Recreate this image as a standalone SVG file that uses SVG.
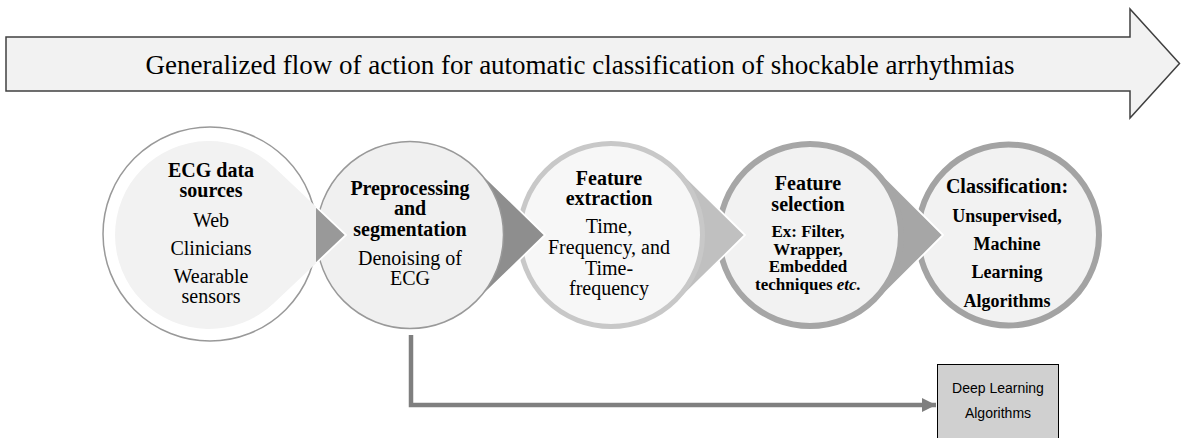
<svg xmlns="http://www.w3.org/2000/svg" width="1181" height="438" viewBox="0 0 1181 438">
<defs>
<style>
.t{font-family:"Liberation Serif","Times New Roman",serif;fill:#000;text-anchor:middle}
.b{font-weight:bold}
.s20{font-size:20px}
.s18{font-size:18px}
.s17{font-size:17px}
.ptr{stroke:#fff;stroke-width:1.8;stroke-linejoin:miter}
.sans{font-family:"Liberation Sans",Arial,sans-serif;font-size:14px;fill:#000;text-anchor:middle}
</style>
<marker id="ah" viewBox="0 0 10 10" refX="10" refY="5" markerWidth="3.2" markerHeight="3.2" orient="auto" markerUnits="strokeWidth">
<path d="M0,0 L10,5 L0,10 Z" fill="#7f7f7f"/>
</marker>
</defs>
<rect width="1181" height="438" fill="#fff"/>
<g id="title">
<polygon points="6,37 1130,37 1130,9 1179.5,63.5 1130,118 1130,91 6,91" fill="#f2f2f2" stroke="#404040" stroke-width="1.5"/>
<text class="t" x="580" y="74" font-size="27">Generalized flow of action for automatic classification of shockable arrhythmias</text>
</g>
<g id="node5">
<circle cx="1008.5" cy="235" r="90.5" fill="#f2f2f2" stroke="#a3a3a3" stroke-width="6"/>
<text class="t b s20" x="1007" y="193">Classification:</text>
<text class="t b s18" x="1007" y="222">Unsupervised,</text>
<text class="t b s18" x="1007" y="250">Machine</text>
<text class="t b s18" x="1007" y="278">Learning</text>
<text class="t b s18" x="1007" y="307">Algorithms</text>
</g>
<g id="node4">
<path class="ptr" d="M876.44,168.5 L943,235 L876.44,301.5 A94,94 0 1 1 876.44,168.5 Z" fill="#a6a6a6"/>
<circle cx="810" cy="235" r="91" fill="#f2f2f2" stroke="#a6a6a6" stroke-width="6"/>
<text class="t b s20" x="808" y="190">Feature</text>
<text class="t b s20" x="808" y="211">selection</text>
<text class="t b s17" x="808" y="237">Ex: Filter,</text>
<text class="t b s17" x="808" y="254.5">Wrapper,</text>
<text class="t b s17" x="808" y="272">Embedded</text>
<text class="t b s17" x="808" y="289.5">techniques <tspan font-style="italic">etc.</tspan></text>
</g>
<g id="node3">
<path class="ptr" d="M676.94,168 L745,235 L676.94,302 A94,94 0 1 1 676.94,168 Z" fill="#c0c0c0"/>
<circle cx="611" cy="235" r="91.5" fill="#f7f7f7" stroke="#c8c8c8" stroke-width="5"/>
<text class="t b s20" x="609" y="185">Feature</text>
<text class="t b s20" x="609" y="205">extraction</text>
<text class="t s20" x="609" y="233">Time,</text>
<text class="t s20" x="609" y="254">Frequency, and</text>
<text class="t s20" x="609" y="275">Time-</text>
<text class="t s20" x="609" y="295">frequency</text>
</g>
<g id="node2">
<path class="ptr" d="M475.45,167.53 L545,235 L475.45,302.47 A94,94 0 1 1 475.45,167.53 Z" fill="#8e8e8e"/>
<circle cx="410" cy="235" r="93.5" fill="#f0f0f0" stroke="#999" stroke-width="1.5"/>
<text class="t b s20" x="410" y="195">Preprocessing</text>
<text class="t b s20" x="410" y="215">and</text>
<text class="t b s20" x="410" y="236">segmentation</text>
<text class="t s20" x="410" y="265">Denoising of</text>
<text class="t s20" x="410" y="285">ECG</text>
</g>
<g id="node1">
<circle cx="210" cy="234" r="107" fill="#fff" stroke="#999" stroke-width="1.5"/>
<path d="M273.5,166.6 L346,235 L273.5,303.4 A94,94 0 1 1 273.5,166.6 Z" fill="#f2f2f2"/>
<polygon points="316,206.7 346,235 316,263.3" fill="#999"/>
<polyline points="316,206.7 346,235 316,263.3" fill="none" stroke="#fff" stroke-width="1.8"/>
<text class="t b s20" x="211" y="177">ECG data</text>
<text class="t b s20" x="211" y="197">sources</text>
<text class="t s20" x="211" y="227">Web</text>
<text class="t s20" x="211" y="255">Clinicians</text>
<text class="t s20" x="211" y="283">Wearable</text>
<text class="t s20" x="211" y="303">sensors</text>
</g>
<g id="connectors">
<path d="M411,335 V405 H936" fill="none" stroke="#7f7f7f" stroke-width="4.5" marker-end="url(#ah)"/>
</g>
<g id="box">
<rect x="937.5" y="364.5" width="121" height="80" fill="#d0d0d0" stroke="#000" stroke-width="1"/>
<text class="sans" x="998" y="393">Deep Learning</text>
<text class="sans" x="998" y="418">Algorithms</text>
</g>
</svg>
